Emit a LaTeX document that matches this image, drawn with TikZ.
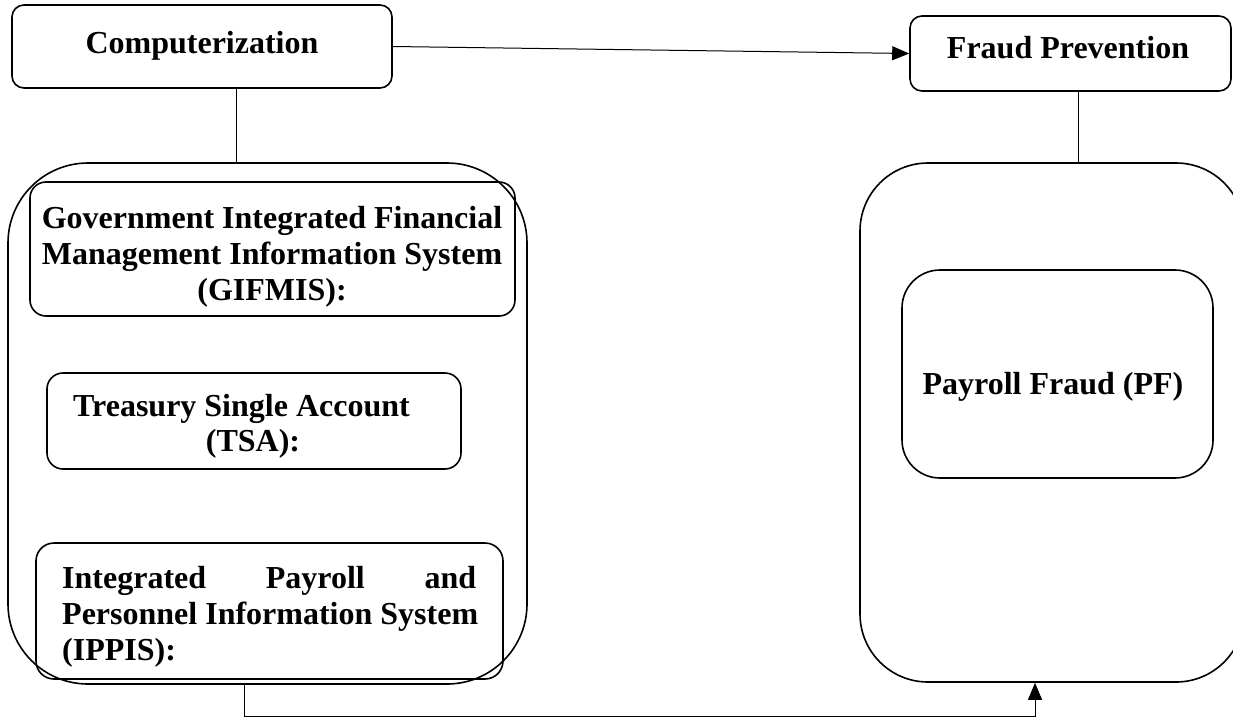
\documentclass[tikz,border=0pt]{standalone}
\usepackage{fontspec}
\setmainfont{Liberation Serif}
\usetikzlibrary{arrows.meta}
\begin{document}
\begin{tikzpicture}[x=1pt,y=-1pt,
  box/.style={draw, line width=1.6pt, rounded corners=#1, inner sep=0pt},
  box/.default=12pt,
  lbl/.style={font=\bfseries\fontsize{32}{36}\selectfont, inner sep=0pt},
  conn/.style={line width=1pt},
  tip/.style={conn, -{Triangle[length=17pt,width=14pt]}}]
\useasboundingbox (0,0) rectangle (1233,726);
% boxes
\node[box=12pt, minimum width=380pt, minimum height=83pt] (C) at (202,46.5) {};
\node[box=12pt, minimum width=321pt, minimum height=75pt] (F) at (1070.5,53.5) {};
\node[box=80pt, minimum width=519pt, minimum height=521pt] (L) at (267.5,423.5) {};
\node[box=16pt, minimum width=485pt, minimum height=134pt] (G) at (272.5,249) {};
\node[box=16pt, minimum width=414pt, minimum height=96pt] (T) at (254,421) {};
\node[box=18pt, minimum width=467pt, minimum height=136pt] (I) at (269.5,611) {};
\node[box=68pt, minimum width=384pt, minimum height=519pt] (R) at (1052,422.5) {};
\node[box=38pt, minimum width=311pt, minimum height=208pt] (P) at (1057.5,374) {};
% texts
\node[lbl, anchor=base] (tC) at (202,53) {Computerization};
\node[lbl, anchor=base] (tF) at (1068,58) {Fraud Prevention};
\node[lbl, anchor=north, align=center] (tG) at (272,206) {Government Integrated Financial\\Management Information System\\(GIFMIS):};
\node[lbl, anchor=base west] (tT1) at (73,416) {Treasury Single Account};
\node[lbl, anchor=base] (tT2) at (253,451) {(TSA):};
\node[lbl, anchor=north west, align=left] (tI) at (62,566) {\makebox[414pt][s]{Integrated Payroll and}\\Personnel Information System\\(IPPIS):};
\node[lbl, anchor=base] (tP) at (1053,394) {Payroll Fraud (PF)};
% connectors
\coordinate (x1) at (236,0);
\coordinate (x2) at (1078,0);
\coordinate (b1) at (244,716);
\coordinate (b2) at (1035,716);
\draw[conn] (C.south -| x1) -- (L.north -| x1);
\draw[conn] (F.south -| x2) -- (R.north -| x2);
\draw[tip] (C.east) -- (F.west);
\draw[tip] (L.south -| b1) -- (b1) -- (b2) -- (R.south -| b2);
\end{tikzpicture}
\end{document}
